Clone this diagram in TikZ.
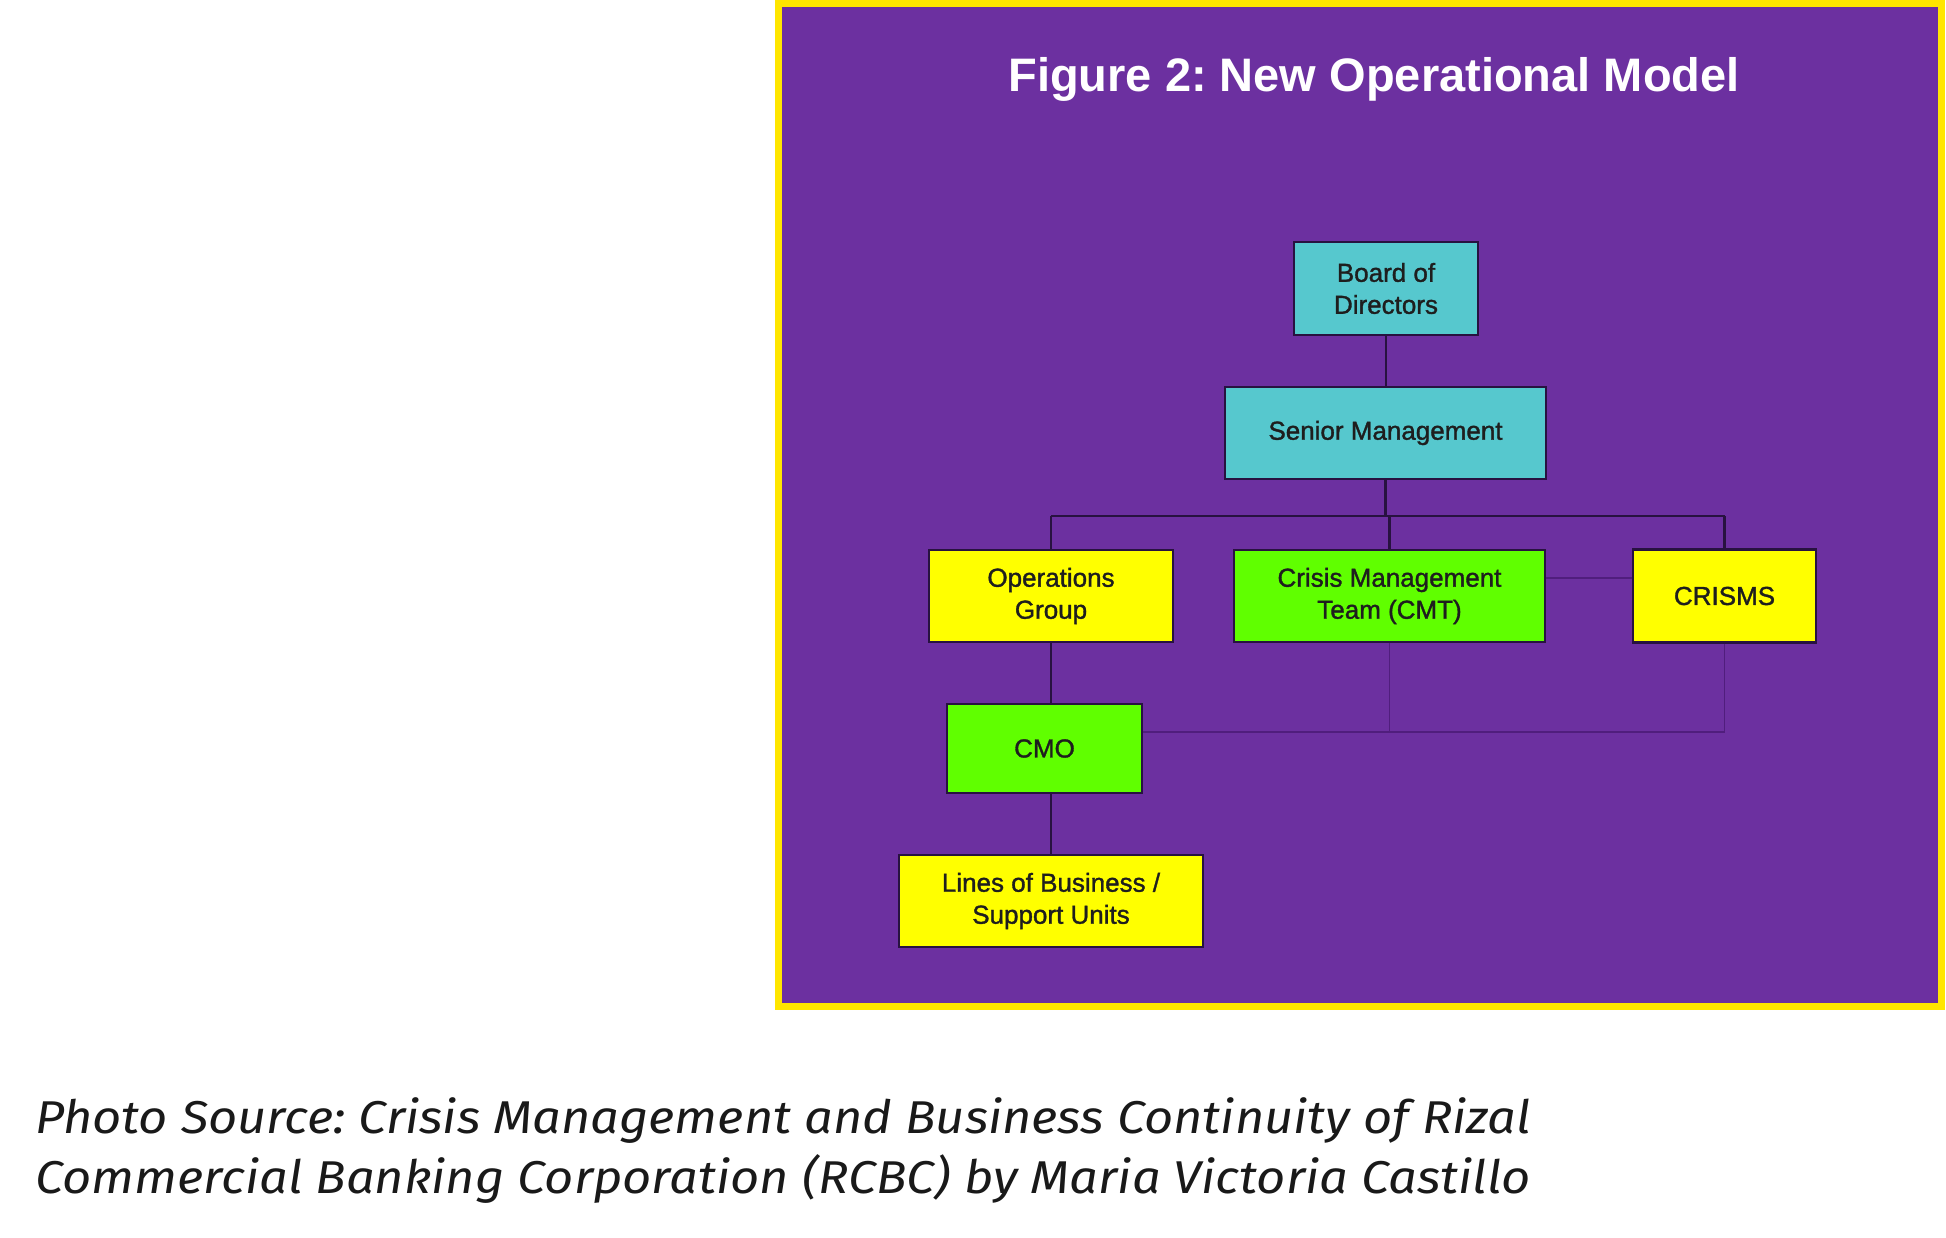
\documentclass[tikz,border=0pt]{standalone}
\usepackage{fontspec}
\setmainfont{Liberation Sans}
\newfontfamily\capfont[FakeStretch=1.1]{Fira Sans}
\newfontfamily\boxfont[FakeBold=1.3]{Liberation Sans}
\frenchspacing
\definecolor{bgpurple}{RGB}{108,48,160}
\definecolor{eyyellow}{RGB}{255,230,0}
\definecolor{boxcyan}{RGB}{86,200,206}
\definecolor{boxyellow}{RGB}{255,255,0}
\definecolor{boxgreen}{RGB}{96,255,0}
\definecolor{linedark}{RGB}{40,18,64}
\definecolor{linethin}{RGB}{80,30,125}
\definecolor{boxtext}{RGB}{30,30,30}
\tikzset{
  orgbox/.style={draw=linedark, line width=2.2pt, rectangle, inner sep=0pt, align=center,
    text=boxtext, font=\boxfont\fontsize{26}{32}\selectfont},
  cyanbox/.style={orgbox, fill=boxcyan},
  yelbox/.style={orgbox, fill=boxyellow},
  grnbox/.style={orgbox, fill=boxgreen},
  mainline/.style={draw=linedark, line width=2.8pt},
  thinline/.style={draw=linethin, line width=1.4pt},
}
\begin{document}
\begin{tikzpicture}[x=1pt,y=-1pt]
\useasboundingbox (0,0) rectangle (1946,1238);
\fill[white] (0,0) rectangle (1946,1238);
% frame
\fill[eyyellow] (775,0) rectangle (1945,1010);
\fill[bgpurple] (782,7) rectangle (1938,1003);
% title
\node[anchor=base, text=white, font=\bfseries\fontsize{47}{56}\selectfont, inner sep=0pt] (title) at (1374,92) {Figure 2: New Operational Model};
% boxes
\node[cyanbox, minimum width=184pt, minimum height=93pt] (board) at (1386,288.5) {Board of\\Directors};
\node[cyanbox, minimum width=321pt, minimum height=92pt] (sm) at (1385.5,433) {Senior Management};
\node[yelbox, minimum width=244pt, minimum height=92pt] (ops) at (1051,596) {Operations\\Group};
\node[grnbox, minimum width=311pt, minimum height=92pt] (cmt) at (1389.5,596) {Crisis Management\\Team (CMT)};
\node[yelbox, minimum width=183pt, minimum height=93pt] (crisms) at (1724.5,596) {CRISMS};
\node[grnbox, minimum width=195pt, minimum height=89pt] (cmo) at (1044.5,748.5) {CMO};
\node[yelbox, minimum width=304pt, minimum height=92pt] (lob) at (1051,901) {Lines of Business /\\Support Units};
% coordinates
\coordinate (bus) at (0,516);
\coordinate (tA) at (0,578);
\coordinate (tB) at (0,732);
% main connectors
\draw[mainline] (board.south) -- (board.south |- sm.north);
\draw[mainline] (sm.south) -- (sm.south |- bus);
\draw[mainline] (ops.north |- bus) -- (crisms.north |- bus);
\draw[mainline] (ops.north |- bus) -- (ops.north);
\draw[mainline] (cmt.north |- bus) -- (cmt.north);
\draw[mainline] (crisms.north |- bus) -- (crisms.north);
\draw[mainline] (ops.south) -- (ops.south |- cmo.north);
\draw[mainline] (lob.north |- cmo.south) -- (lob.north);
% thin connectors
\draw[thinline] (cmt.east |- tA) -- (crisms.west |- tA);
\draw[thinline] (cmo.east |- tB) -- (crisms.south |- tB) -- (crisms.south);
\draw[thinline] (cmt.south) -- (cmt.south |- tB);
% caption
\node[anchor=base west, inner sep=0pt, font=\capfont\itshape\fontsize{46}{60}\selectfont, text=black!90] (cap1) at (35,1133) {Photo Source: Crisis Management and Business Continuity of Rizal};
\node[anchor=base west, inner sep=0pt, font=\capfont\itshape\fontsize{46}{60}\selectfont, text=black!90] (cap2) at (35,1193) {Commercial Banking Corporation (RCBC) by Maria Victoria Castillo};
\end{tikzpicture}
\end{document}
